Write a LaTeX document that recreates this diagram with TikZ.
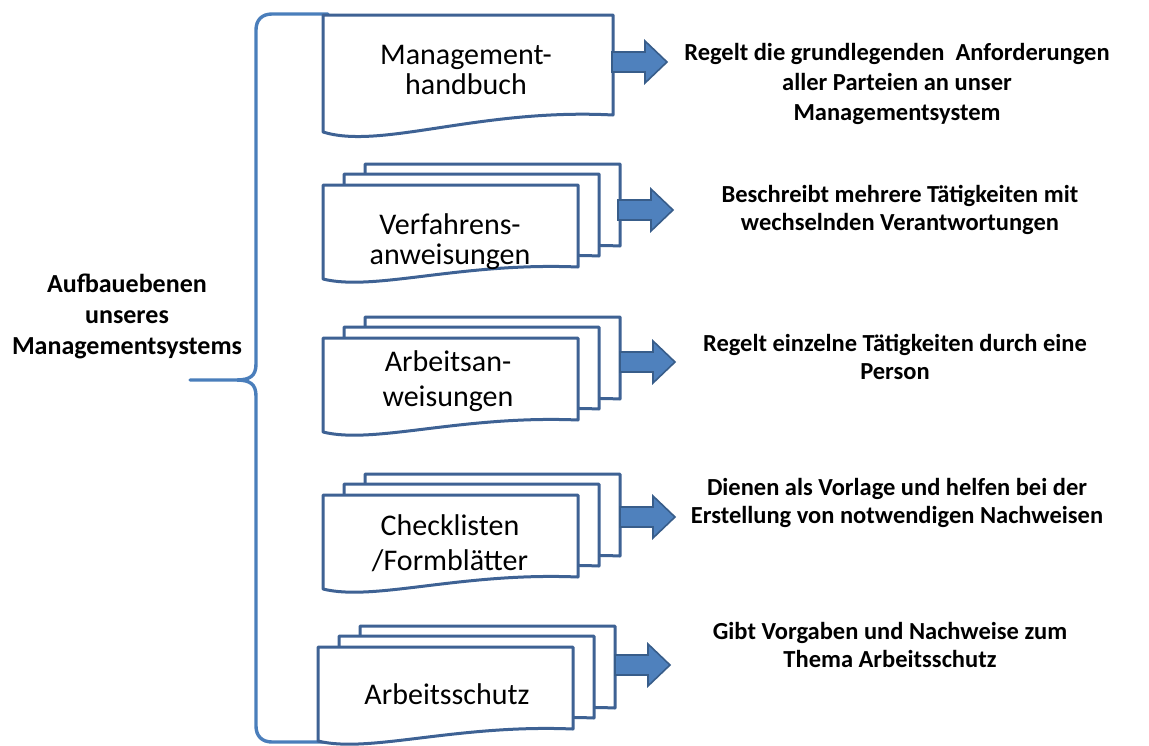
\documentclass[tikz,border=0pt]{standalone}
\usepackage{fontspec}
\setmainfont{Carlito}
\definecolor{docblue}{RGB}{62,98,148}
\definecolor{braceblue}{RGB}{74,126,187}
\definecolor{arrowfill}{RGB}{79,129,189}
\definecolor{arrowline}{RGB}{56,93,138}
\tikzset{
  docline/.style={draw=docblue, line width=3pt, fill=white, line join=round},
  bracestyle/.style={draw=braceblue, line width=3.4pt, line join=round, line cap=round},
  blockarrow/.style={fill=arrowfill, draw=arrowline, line width=1.6pt, line join=miter},
  doctext/.style={align=center, inner sep=0pt, font=\fontsize{30}{30}\selectfont},
  desctext/.style={align=center, inner sep=0pt, font=\bfseries\fontsize{24.5}{27.5}\selectfont},
}
\newcommand\sheet[5]{%
  \pgfmathsetmacro\sS{(#4-#5)/17}%
  \pgfmathsetmacro\cAx{#1+0.2*#3}\pgfmathsetmacro\cAy{#2+#4+18*\sS}%
  \pgfmathsetmacro\cBx{#1+0.54*#3}\pgfmathsetmacro\cBy{#2+#4-24*\sS}%
  \path[docline] (#1,#2) -- (#1+#3,#2) -- (#1+#3,#2+#5)
     .. controls (\cBx,\cBy) and (\cAx,\cAy) .. (#1,#2+#4) -- cycle;}
\newcommand\stackdoc[2]{%
  \sheet{#1+42}{#2-21}{255}{94}{82}%
  \sheet{#1+21}{#2-11}{255}{94}{82}%
  \sheet{#1}{#2}{255}{94}{82}}
\newcommand\barrow[3]{%
  \coordinate (#1) at (#2,#3);
  \draw[blockarrow] (#1) -- ++(-22,-21) -- ++(0,11) -- ++(-33,0) -- ++(0,20)
     -- ++(33,0) -- ++(0,11) -- cycle;}
\begin{document}
\begin{tikzpicture}[x=1pt,y=-1pt]
\useasboundingbox[fill=white] (0,0) rectangle (1149,745);

% brace
\coordinate (btop) at (328,14);
\coordinate (btip) at (190,380);
\coordinate (bbot) at (335,742);
\draw[bracestyle] (btop) -- (272,14) .. controls (262,14) and (256,20) .. (256,30)
  -- (256,364) .. controls (256,376) and (250,380) .. (236,380) -- (btip)
  -- (236,380) .. controls (250,380) and (256,384) .. (256,396)
  -- (256,726) .. controls (256,736) and (262,742) .. (272,742) -- (bbot);

% documents
\sheet{323}{15}{290}{117}{100}
\stackdoc{323}{185}
\stackdoc{323}{338}
\stackdoc{323}{495}
\stackdoc{318}{647}

\node[doctext] (d1) at (466,70) {Management-\\handbuch};
\node[doctext] (d2) at (450,242) {Verfahrens-\\anweisungen};
\node[doctext, font=\fontsize{30}{35}\selectfont] (d3) at (448,381.5) {Arbeitsan-\\weisungen};
\node[doctext, font=\fontsize{30}{35}\selectfont] (d4) at (450,543) {Checklisten\\/Formblätter};
\node[doctext] (d5) at (447,694) {Arbeitsschutz};

% block arrows
\barrow{a1}{667}{62}
\barrow{a2}{673}{210}
\barrow{a3}{675}{362}
\barrow{a4}{675}{517}
\barrow{a5}{670}{665}

% descriptions
\node[desctext, font=\bfseries\fontsize{24.5}{30}\selectfont] (t1) at (897,84) {Regelt die grundlegenden\ \ Anforderungen\\aller Parteien an unser\\Managementsystem};
\node[desctext] (t2) at (900,210) {Beschreibt mehrere Tätigkeiten\ mit\\wechselnden Verantwortungen};
\node[desctext] (t3) at (895,357) {Regelt einzelne Tätigkeiten\ durch\ eine\\Person};
\node[desctext] (t4) at (897,503) {Dienen als Vorlage\ und helfen bei der\\Erstellung von notwendigen\ Nachweisen};
\node[desctext] (t5) at (890,645) {Gibt Vorgaben\ und\ Nachweise zum\\Thema Arbeitsschutz};

\node[desctext, font=\bfseries\fontsize{26}{31}\selectfont] (left) at (127,316.5) {Aufbauebenen\\unseres\\Managementsystems};
\end{tikzpicture}
\end{document}
